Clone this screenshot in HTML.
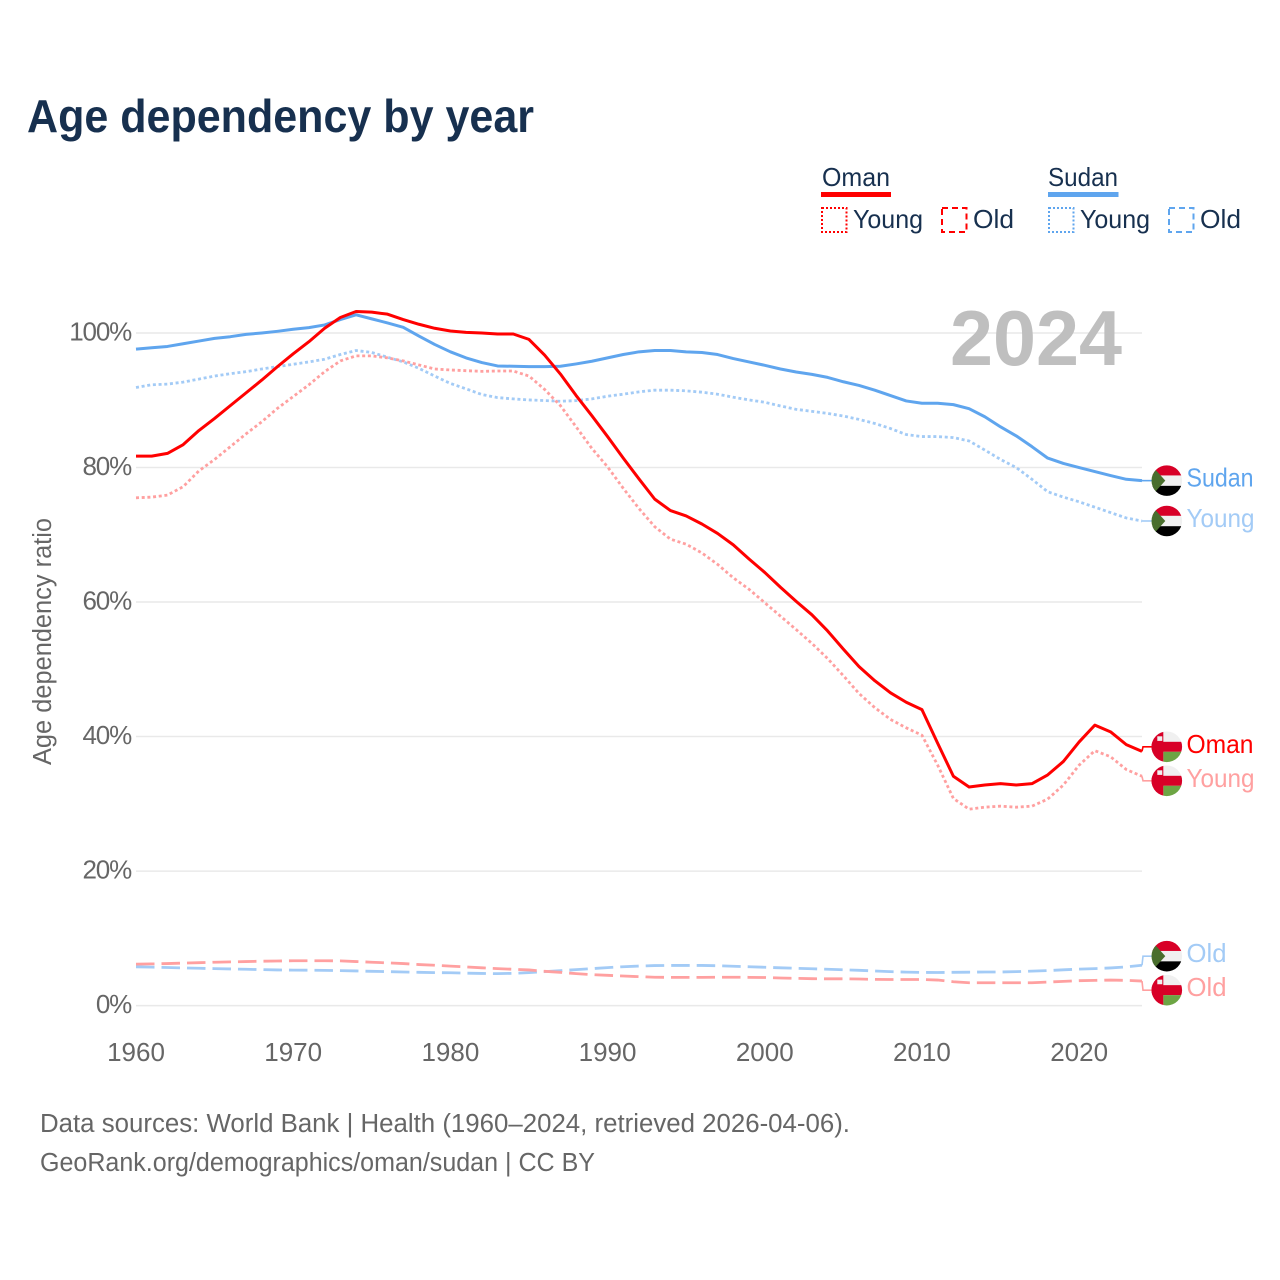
<!DOCTYPE html>
<html lang="en">
<head>
<meta charset="utf-8">
<title>Age dependency by year</title>
<style>
html,body{margin:0;padding:0;background:#fff;}
svg{display:block;}
text{font-family:"Liberation Sans",sans-serif;}
</style>
</head>
<body>
<svg id="chart" xmlns="http://www.w3.org/2000/svg" width="1280" height="1280" viewBox="0 0 1280 1280">
  <defs>
    <clipPath id="flag-clip"><circle cx="0" cy="0" r="15.3"/></clipPath>
    <g id="flag-sudan" clip-path="url(#flag-clip)">
      <rect x="-16" y="-16" width="32" height="11" fill="#d80027"/>
      <rect x="-16" y="-5.2" width="32" height="10.4" fill="#f0f0f0"/>
      <rect x="-16" y="5.2" width="32" height="11" fill="#000"/>
      <polygon points="-16,-16 -16,16 -1.5,0" fill="#496e2d"/>
    </g>
    <g id="flag-oman" clip-path="url(#flag-clip)">
      <rect x="-16" y="-16" width="32" height="32" fill="#f0f0f0"/>
      <rect x="-16" y="-5" width="32" height="10" fill="#d80027"/>
      <rect x="-3.5" y="5" width="20" height="11" fill="#6da544"/>
      <rect x="-16" y="-16" width="12.5" height="32" fill="#d80027"/>
      <rect x="-9.5" y="-10.5" width="5" height="4.6" fill="#f0f0f0"/>
    </g>
  </defs>

  <text x="27" y="132" font-size="46" font-weight="bold" fill="#17304f" textLength="507" lengthAdjust="spacingAndGlyphs">Age dependency by year</text>

  <g id="grid"></g>
  <g id="yticks"></g>
  <g id="xticks"></g>

  <text transform="translate(51,641.5) rotate(-90)" text-anchor="middle" font-size="25.5" fill="#666" textLength="247" lengthAdjust="spacingAndGlyphs">Age dependency ratio</text>

  <text x="950" y="365" font-size="78" font-weight="bold" fill="#bfbfbf" textLength="172" lengthAdjust="spacingAndGlyphs">2024</text>

  <g id="series"></g>
  <g id="end-labels"></g>

  <g fill="#17304f" font-size="26">
    <text x="822" y="186" textLength="68" lengthAdjust="spacingAndGlyphs">Oman</text>
    <rect x="821" y="192" width="70" height="5" fill="#ff0000"/>
    <rect x="822" y="208" width="24.5" height="24" fill="none" stroke="#ff0000" stroke-width="2" stroke-dasharray="2 2"/>
    <text x="853" y="228" textLength="70" lengthAdjust="spacingAndGlyphs">Young</text>
    <rect x="942" y="208" width="24.5" height="24" fill="none" stroke="#ff0000" stroke-width="2" stroke-dasharray="6 4"/>
    <text x="973" y="228" textLength="41" lengthAdjust="spacingAndGlyphs">Old</text>

    <text x="1048" y="186" textLength="70" lengthAdjust="spacingAndGlyphs">Sudan</text>
    <rect x="1048" y="192" width="70.5" height="5" fill="#5fa5ee"/>
    <rect x="1049" y="208" width="24.5" height="24" fill="none" stroke="#5fa5ee" stroke-width="2" stroke-dasharray="2 2"/>
    <text x="1080" y="228" textLength="70" lengthAdjust="spacingAndGlyphs">Young</text>
    <rect x="1169" y="208" width="24.5" height="24" fill="none" stroke="#5fa5ee" stroke-width="2" stroke-dasharray="6 4"/>
    <text x="1200" y="228" textLength="41" lengthAdjust="spacingAndGlyphs">Old</text>
  </g>

  <g fill="#666" font-size="25.5">
    <text x="40" y="1132" textLength="810" lengthAdjust="spacingAndGlyphs">Data sources: World Bank | Health (1960–2024, retrieved 2026-04-06).</text>
    <text x="40" y="1171" textLength="555" lengthAdjust="spacingAndGlyphs">GeoRank.org/demographics/oman/sudan | CC BY</text>
  </g>
</svg>

<script>
const startYear = 1960;
const endYear = 2024;
const yTickValues = [0, 20, 40, 60, 80, 100];
const yTickLabels = ["0%", "20%", "40%", "60%", "80%", "100%"];
const xTickValues = [1960, 1970, 1980, 1990, 2000, 2010, 2020];
const xTickLabels = ["1960", "1970", "1980", "1990", "2000", "2010", "2020"];

const omanTotal = [
  81.7,81.7,82.1,83.4,85.5,87.3,89.2,91.1,93.0,95.0,
  96.9,98.7,100.7,102.3,103.2,103.1,102.8,102.0,101.3,100.7,
  100.3,100.1,100.0,99.85,99.85,99.05,96.7,93.9,90.7,87.7,
  84.6,81.4,78.3,75.3,73.6,72.8,71.6,70.2,68.5,66.4,
  64.4,62.2,60.1,58.1,55.7,53.0,50.4,48.3,46.5,45.1,
  44.0,39.0,34.1,32.5,32.8,33.0,32.8,33.0,34.3,36.3,
  39.2,41.7,40.7,38.8,37.8
];
const omanYoung = [
  75.5,75.6,75.9,77.15,79.5,81.2,83.1,85.0,86.8,88.8,
  90.55,92.3,94.25,95.85,96.6,96.6,96.3,95.85,95.25,94.65,
  94.5,94.4,94.3,94.35,94.35,93.6,91.6,89.2,86.05,82.85,
  80.1,76.9,73.9,71.2,69.35,68.6,67.3,65.6,63.6,61.9,
  59.9,57.9,55.9,53.85,51.6,49.05,46.4,44.3,42.55,41.3,
  40.2,35.75,30.8,29.2,29.5,29.65,29.5,29.65,30.7,32.8,
  35.75,37.9,37.0,35.1,34.1
];
const omanOld = [
  6.17,6.2,6.25,6.32,6.38,6.45,6.5,6.55,6.6,6.63,
  6.67,6.67,6.67,6.65,6.55,6.45,6.35,6.25,6.1,6.0,
  5.87,5.75,5.62,5.5,5.4,5.3,5.1,4.95,4.75,4.6,
  4.5,4.4,4.3,4.22,4.2,4.2,4.2,4.22,4.22,4.2,
  4.18,4.1,4.05,4.0,3.98,3.98,3.95,3.9,3.88,3.88,
  3.88,3.8,3.55,3.4,3.4,3.4,3.4,3.4,3.5,3.6,
  3.7,3.75,3.8,3.75,3.65
];
const sudanTotal = [
  97.6,97.8,98.0,98.4,98.8,99.2,99.45,99.8,100.0,100.25,
  100.55,100.8,101.2,102.0,102.7,102.1,101.5,100.85,99.55,98.3,
  97.2,96.3,95.6,95.1,95.05,95.0,95.0,95.05,95.4,95.8,
  96.3,96.8,97.2,97.4,97.4,97.2,97.1,96.8,96.2,95.7,
  95.2,94.65,94.2,93.85,93.4,92.75,92.2,91.5,90.7,89.9,
  89.55,89.55,89.35,88.75,87.55,86.05,84.7,83.1,81.4,80.6,
  80.0,79.4,78.8,78.25,78.05
];
const sudanYoung = [
  91.9,92.3,92.4,92.7,93.15,93.6,93.95,94.25,94.65,95.0,
  95.35,95.7,96.1,96.8,97.4,97.1,96.4,95.7,94.75,93.6,
  92.5,91.7,90.85,90.4,90.2,90.05,89.95,89.85,89.95,90.2,
  90.6,90.9,91.25,91.5,91.5,91.4,91.2,90.9,90.45,90.05,
  89.7,89.15,88.65,88.35,88.05,87.65,87.15,86.55,85.8,84.9,
  84.6,84.6,84.45,83.95,82.6,81.2,80.0,78.25,76.4,75.6,
  74.9,74.1,73.3,72.5,72.05
];
const sudanOld = [
  5.77,5.72,5.66,5.6,5.55,5.5,5.45,5.4,5.35,5.3,
  5.28,5.26,5.24,5.2,5.15,5.1,5.05,5.0,4.95,4.9,
  4.88,4.82,4.78,4.75,4.8,4.9,5.05,5.2,5.35,5.5,
  5.65,5.78,5.88,5.95,5.97,5.97,5.97,5.93,5.85,5.78,
  5.7,5.62,5.55,5.48,5.4,5.33,5.25,5.15,5.05,4.98,
  4.93,4.92,4.95,4.97,5.0,5.0,5.05,5.12,5.2,5.32,
  5.42,5.5,5.6,5.75,6.0
];

const NS = "http://www.w3.org/2000/svg";
const plotLeft = 136, plotRight = 1142, yZero = 1005.6, yHundred = 333;
function xScale(year) { return plotLeft + (year - startYear) * (plotRight - plotLeft) / (endYear - startYear); }
function yScale(v) { return yZero + v * (yHundred - yZero) / 100; }
function make(tag, attrs, parent) {
  const el = document.createElementNS(NS, tag);
  for (const k in attrs) el.setAttribute(k, attrs[k]);
  parent.appendChild(el);
  return el;
}

const gridGroup = document.getElementById("grid");
const yTickGroup = document.getElementById("yticks");
yTickValues.forEach(function (v, i) {
  const line = make("line", {x1: plotLeft, x2: plotRight, y1: yScale(v), y2: yScale(v), stroke: "#e9e9e9", "stroke-width": 1.5}, gridGroup);
  
  
  const label = make("text", {x: 131, y: yScale(v) + 7.5, "text-anchor": "end", "font-size": 26, fill: "#666", "letter-spacing": "-1.2"}, yTickGroup);
  label.textContent = yTickLabels[i];
  
  
});

const xTickGroup = document.getElementById("xticks");
xTickValues.forEach(function (v, i) {
  const label = make("text", {x: xScale(v), y: 1061, "text-anchor": "middle", "font-size": 26, fill: "#666"}, xTickGroup);
  label.textContent = xTickLabels[i];
  
  
});

const lightRed = "#ffa0a0", lightBlue = "#a3cbf6", red = "#ff0000", blue = "#5fa5ee";
const dotted = "3 2.7", dashed = "18.5 7";
const seriesList = [
  {id: "sudan-old", values: sudanOld, color: lightBlue, dash: dashed, flag: "sudan", label: "Old", w: 40},
  {id: "oman-old", values: omanOld, color: lightRed, dash: dashed, flag: "oman", label: "Old", w: 40},
  {id: "sudan-young", values: sudanYoung, color: lightBlue, dash: dotted, flag: "sudan", label: "Young", w: 68},
  {id: "oman-young", values: omanYoung, color: lightRed, dash: dotted, flag: "oman", label: "Young", w: 68},
  {id: "sudan-total", values: sudanTotal, color: blue, dash: null, flag: "sudan", label: "Sudan", w: 67},
  {id: "oman-total", values: omanTotal, color: red, dash: null, flag: "oman", label: "Oman", w: 67}
];

// Dodge end labels: pairs closer than the flag spacing are spread around their mean.
const minGap = 34;
const ordered = seriesList.slice().sort(function (a, b) { return yScale(a.values[a.values.length - 1]) - yScale(b.values[b.values.length - 1]); });
ordered.forEach(function (s) { s.labelY = yScale(s.values[s.values.length - 1]); });
for (let pass = 0; pass < 6; pass++) {
  for (let i = 0; i < ordered.length - 1; i++) {
    const a = ordered[i], b = ordered[i + 1];
    if (b.labelY - a.labelY < minGap) {
      const mean = (a.labelY + b.labelY) / 2;
      a.labelY = mean - minGap / 2;
      b.labelY = mean + minGap / 2;
    }
  }
}

const seriesGroup = document.getElementById("series");
const labelsGroup = document.getElementById("end-labels");
seriesList.forEach(function (s) {
  const pts = s.values.map(function (v, i) { return xScale(startYear + i).toFixed(2) + "," + yScale(v).toFixed(2); });
  const attrs = {d: "M" + pts.join("L"), fill: "none", stroke: s.color, "stroke-width": s.dash ? 2.8 : 3, "stroke-linejoin": "round"};
  if (s.dash) attrs["stroke-dasharray"] = s.dash;
  const path = make("path", attrs, seriesGroup);
  
  

  const endY = yScale(s.values[s.values.length - 1]);
  const conn = make("path", {d: "M" + plotRight + "," + endY.toFixed(2) + "L" + (plotRight + 1) + "," + s.labelY.toFixed(2) + "L1152," + s.labelY.toFixed(2), fill: "none", stroke: s.color, "stroke-width": 1.6}, seriesGroup);
  
  

  const flag = make("use", {href: "#flag-" + s.flag, x: 1166.8, y: s.labelY}, labelsGroup);
  
  

  const label = make("text", {x: 1186.5, y: s.labelY + 6, "font-size": 26, fill: s.color, textLength: s.w, lengthAdjust: "spacingAndGlyphs"}, labelsGroup);
  label.textContent = s.label;
  
  
});
</script>
</body>
</html>
